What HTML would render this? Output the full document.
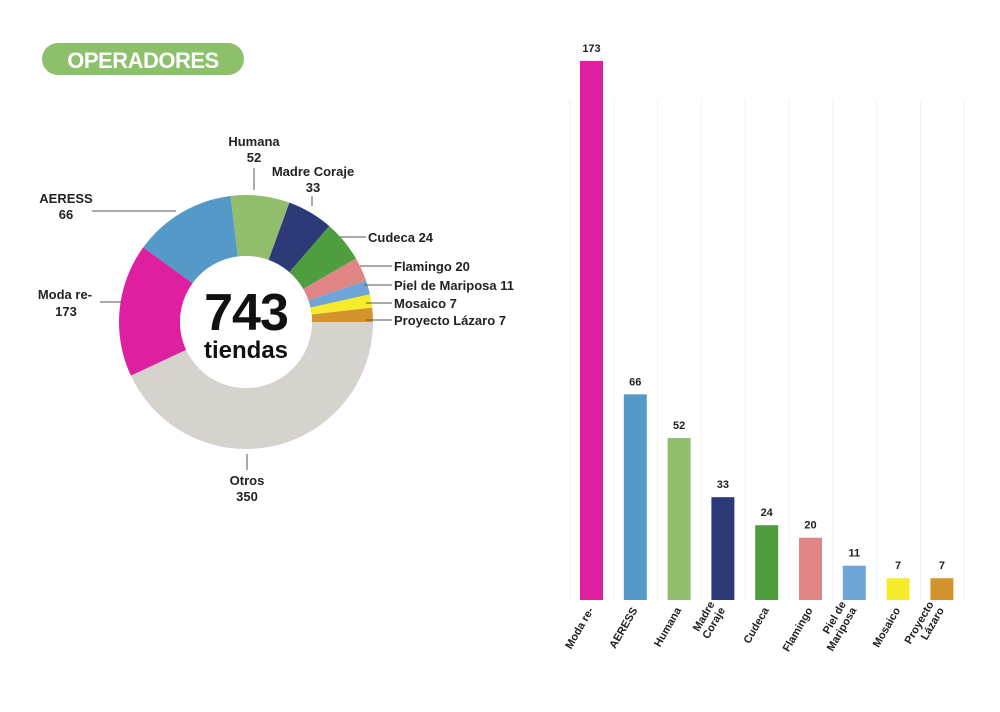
<!DOCTYPE html>
<html><head><meta charset="utf-8"><style>
body{margin:0;background:#fff;width:1000px;height:707px;overflow:hidden;font-family:"Liberation Sans",sans-serif}
text{font-family:"Liberation Sans",sans-serif;font-weight:bold;fill:#222}
</style></head><body>
<svg id="s" width="1000" height="707" xmlns="http://www.w3.org/2000/svg">
<rect x="42" y="43" width="202" height="32" rx="16" fill="#8dc06a"/>
<text x="143" y="68" text-anchor="middle" style="fill:#fff;font-size:22px;letter-spacing:-0.5px">OPERADORES</text>
<g id="donut"></g>
<circle cx="246" cy="322" r="66" fill="#fff"/>
<text x="246" y="330" text-anchor="middle" style="font-size:52px;fill:#111;letter-spacing:-1px">743</text>
<text x="246" y="358" text-anchor="middle" style="font-size:24px;fill:#111">tiendas</text>
<g stroke="#555" stroke-width="1">
<line x1="254" y1="168" x2="254" y2="190"/>
<line x1="312" y1="196" x2="312" y2="206"/>
<line x1="92" y1="211" x2="176" y2="211"/>
<line x1="340" y1="237" x2="366" y2="237"/>
<line x1="360" y1="266" x2="392" y2="266"/>
<line x1="364" y1="285" x2="392" y2="285"/>
<line x1="366" y1="303" x2="392" y2="303"/>
<line x1="366" y1="320" x2="392" y2="320"/>
<line x1="100" y1="302" x2="122" y2="302"/>
<line x1="247" y1="454" x2="247" y2="470"/>
</g>
<g style="font-size:13px">
<text x="254" y="146" text-anchor="middle">Humana</text>
<text x="254" y="162" text-anchor="middle">52</text>
<text x="313" y="176" text-anchor="middle">Madre Coraje</text>
<text x="313" y="192" text-anchor="middle">33</text>
<text x="66" y="203" text-anchor="middle">AERESS</text>
<text x="66" y="219" text-anchor="middle">66</text>
<text x="368" y="242">Cudeca 24</text>
<text x="394" y="271">Flamingo 20</text>
<text x="394" y="290">Piel de Mariposa 11</text>
<text x="394" y="308">Mosaico 7</text>
<text x="394" y="325">Proyecto Lázaro 7</text>
<text x="92" y="299" text-anchor="end">Moda re-</text>
<text x="66" y="316" text-anchor="middle">173</text>
<text x="247" y="485" text-anchor="middle">Otros</text>
<text x="247" y="501" text-anchor="middle">350</text>
</g>
<g id="bars"></g>
</svg>
<script>
var NS="http://www.w3.org/2000/svg";
function el(t,a,p,txt){var e=document.createElementNS(NS,t);for(var k in a)e.setAttribute(k,a[k]);if(txt!=null)e.textContent=txt;p.appendChild(e);return e;}
var slices=[[155,"#d6d3cf"],[216,"#dd1fa0"],[263,"#5499c7"],[290,"#92bd6c"],[311,"#2d3a78"],[330,"#4e9d3f"],[341,"#e08585"],[347.4,"#6fa4d6"],[353.5,"#f7ec2b"],[360,"#d4942d"]];
var d=document.getElementById("donut"),cx=246,cy=322,R=127,r=66,a=0;
slices.forEach(function(s){var a2=s[0]*Math.PI/180;
var p=function(rr,t){return (cx+rr*Math.cos(t)).toFixed(2)+" "+(cy+rr*Math.sin(t)).toFixed(2)};
var lg=(a2-a)>Math.PI?1:0;
el("path",{d:"M"+p(R,a)+" A"+R+" "+R+" 0 "+lg+" 1 "+p(R,a2)+" L"+p(r,a2)+" A"+r+" "+r+" 0 "+lg+" 0 "+p(r,a)+"Z",fill:s[1]},d);a=a2;});
var b=document.getElementById("bars");
var bars=[["Moda re-",173,"#dd1fa0"],["AERESS",66,"#5499c7"],["Humana",52,"#92bd6c"],["Madre|Coraje",33,"#2d3a78"],["Cudeca",24,"#4e9d3f"],["Flamingo",20,"#e08585"],["Piel de|Mariposa",11,"#6fa4d6"],["Mosaico",7,"#f7ec2b"],["Proyecto|Lázaro",7,"#d4942d"]];
for(var i=0;i<=9;i++){var gx=570+i*43.8;el("line",{x1:gx,y1:100,x2:gx,y2:600,stroke:"#f2f2f2","stroke-width":1},b);}
bars.forEach(function(v,i){var x=580+i*43.8,h=v[1]*3.116,y=600-h;
el("rect",{x:x,y:y,width:23,height:h,fill:v[2]},b);
el("text",{x:x+11.5,y:y-9,"text-anchor":"middle",style:"font-size:11px"},b,String(v[1]));
var lines=v[0].split("|"),cxl=x+14;
lines.forEach(function(L,j){var off=(j-(lines.length-1))*12;
el("text",{x:0,y:0,"text-anchor":"end",style:"font-size:11px",transform:"translate("+(cxl+off*0.87)+","+(610+off*0.5)+") rotate(-60)"},b,L);});
});
</script>
</body></html>
